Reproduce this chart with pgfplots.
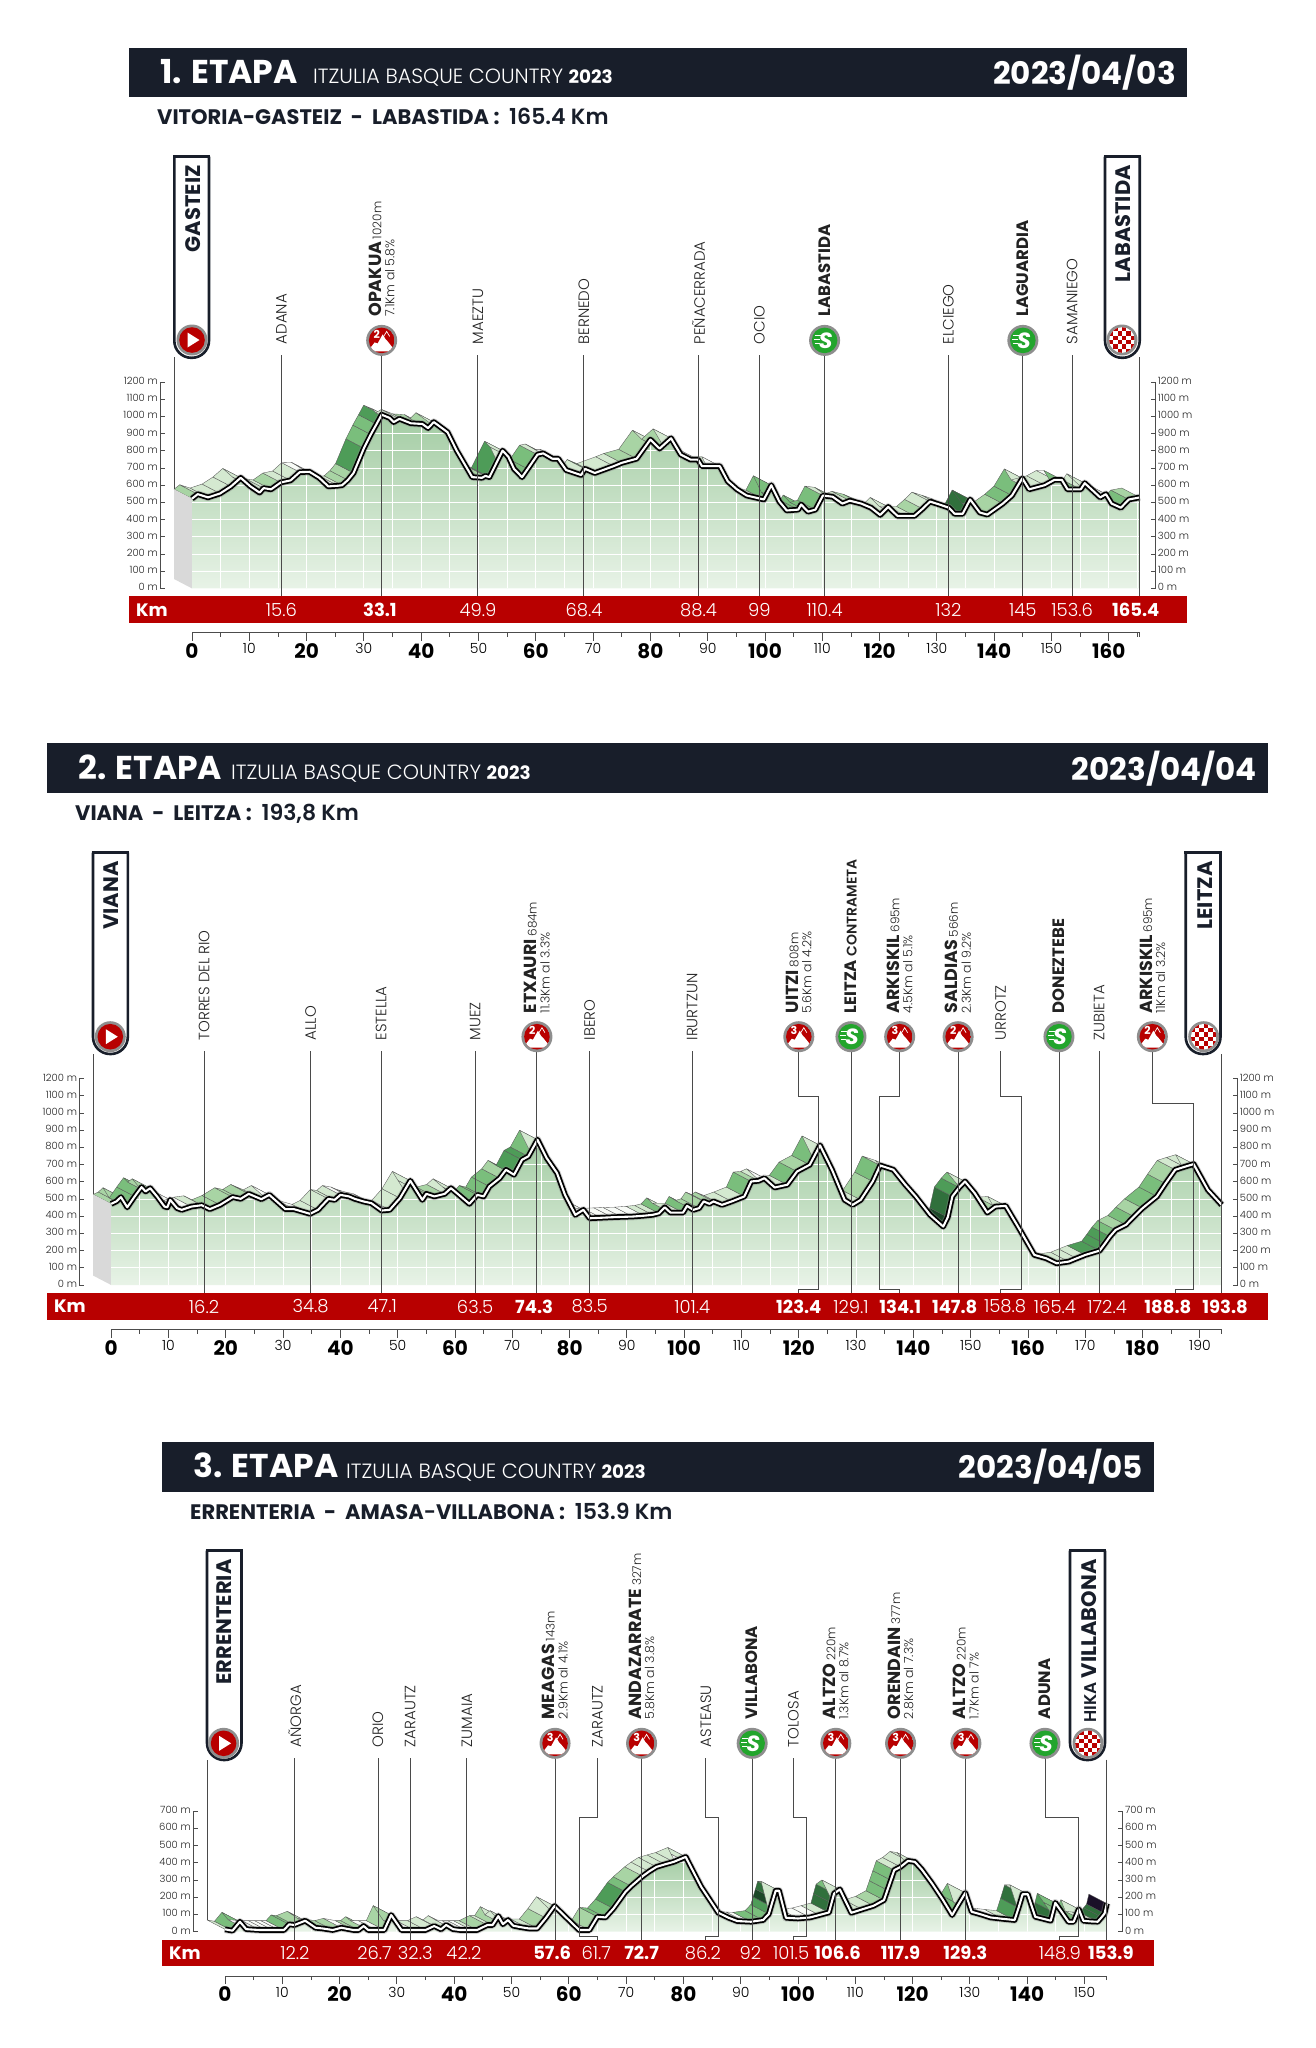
\documentclass[border=0pt]{standalone}
\usepackage{fontspec}
\setmainfont{Poppins}
\newfontfamily\lt{Poppins Light}
\usepackage{pgfplots}
\pgfplotsset{compat=1.18}
\usepgfplotslibrary{patchplots}

\definecolor{navy}{HTML}{181E2A}
\definecolor{barred}{HTML}{B80000}
\definecolor{dark}{HTML}{222222}
\definecolor{vline}{HTML}{4A4A4A}
\definecolor{ring}{HTML}{8E8E8E}
\definecolor{sgreen}{HTML}{22A52C}
\definecolor{areatop}{HTML}{A3CCA3}
\definecolor{areabot}{HTML}{E8F3E7}

\newcommand\fs[1]{\fontsize{#1}{#1}\selectfont}
\newcommand\bd{\normalfont\bfseries}
\newcommand\tM[1]{{\bd\fs{20}#1}}
\newcommand\tm[1]{{\lt\fs{14}#1}}

% ribbon and road from one list km/m/class
\newcommand\buildstage[1]{%
  \gdef\roadcoords{}\gdef\ribcoords{}\gdef\clippath{}\gdef\lastk{}%
  \foreach \k/\e/\c in {#1}{%
    \xdef\roadcoords{\roadcoords (\k,\e)}%
    \xdef\clippath{\clippath --(axis cs:\k,\e)}%
    \ifx\lastk\empty\else
      \pgfmathsetmacro\xa{\lastk-3.14}\pgfmathsetmacro\ya{\laste+54.6}%
      \pgfmathsetmacro\xb{\k-3.14}\pgfmathsetmacro\yb{\e+54.6}%
      \xdef\ribcoords{\ribcoords (\lastk,\laste)[\c] (\k,\e)[\c] (\xb,\yb)[\c] (\xa,\ya)[\c]}%
    \fi
    \xdef\lastk{\k}\xdef\laste{\e}%
  }}
\newcommand\plotcoords[2]{\edef\tmpa{\noexpand\addplot[#1] coordinates {#2}}\tmpa}

% white 5 km / 100 m lattice that shows inside the area
\gdef\gridpath{}
\foreach \k in {5,10,...,195}{\xdef\gridpath{\gridpath (axis cs:\k,0)--(axis cs:\k,1200)}}
\foreach \h in {100,200,...,1200}{\xdef\gridpath{\gridpath (axis cs:0,\h)--(axis cs:200,\h)}}
\newcommand\areagrid{\begin{scope}
  \clip (axis cs:0,0) \clippath --(axis cs:\lastk,0)--cycle;
  \draw[white,line width=0.9pt] \gridpath;
\end{scope}}

\pgfplotsset{
  colormap={rib}{rgb255=(248,251,247) rgb255=(212,233,208) rgb255=(168,212,164) rgb255=(122,190,124)
    rgb255=(78,156,88) rgb255=(48,112,60) rgb255=(28,72,40) rgb255=(26,16,40)},
  stage/.style={
    x=5.73pt, y=0.172pt, clip=false, anchor=south west,
    xmin=0, ymin=0,
    axis x line*=bottom, axis y line=none,
    axis x line shift=44.5pt,
    axis line style={draw=black!70, line width=1pt, -},
    xtick align=outside,
    major tick length=8pt, minor tick length=4pt,
    tick style={black!70, line width=0.9pt},
    ytick=\empty,
    xticklabels={\tM{0},\tm{10},\tM{20},\tm{30},\tM{40},\tm{50},\tM{60},\tm{70},\tM{80},\tm{90},\tM{100},\tm{110},\tM{120},\tm{130},\tM{140},\tm{150},\tM{160},\tm{170},\tM{180},\tm{190}},
    xticklabel style={anchor=north, inner sep=0pt, yshift=-2.5pt},
  },
  stageside/.style={
    x=5.73pt, y=0.172pt, clip=false, anchor=south west,
    xmin=0, ymin=0, xtick=\empty,
    axis x line=none,
    axis line style={draw=black!70, line width=1pt, -},
    ytick align=inside, major tick length=4.5pt,
    tick style={black!70, line width=0.9pt},
    ytick={0,100,...,1200},
    yticklabels={0 m,100 m,200 m,300 m,400 m,500 m,600 m,700 m,800 m,900 m,1000 m,1100 m,1200 m},
    yticklabel style={font=\lt\fs{10}, text=dark, inner sep=2pt, yshift=1.2pt},
  },
  stageleft/.style={stageside, axis y line*=left, axis y line shift=32pt},
  stageright/.style={stageside, axis y line*=right, axis y line shift=16pt},
  ribbonplot/.style={patch, patch type=rectangle, shader=faceted, colormap name=rib,
    faceted color=black!65, line width=0.35pt, point meta=explicit, point meta min=0, point meta max=7},
  areaplot/.style={draw=none, top color=areatop, bottom color=areabot},
  roadshadow/.style={black!45, opacity=0.4, line width=7.5pt, line join=round, mark=none},
  roadout/.style={black, line width=5.6pt, line join=round, mark=none},
  roadin/.style={white, line width=2.1pt, line join=round, mark=none},
}

\tikzset{
  pics/climbicon/.style={code={
    \fill[ring] (0pt,0pt) circle[radius=15.5pt];
    \begin{scope}
      \clip (0pt,0pt) circle[radius=12.8pt];
      \fill[barred] (0pt,0pt) circle[radius=13pt];
      \fill[white] (-14pt,-11pt)--(-7pt,-2pt)--(-4pt,-3pt)--(1pt,6pt)--(4pt,1pt)--(6pt,-1pt)--(14pt,-11pt)--cycle;
      \draw[white,line width=0.7pt] (2pt,4pt)--(5pt,9pt)--(8pt,4pt);
    \end{scope}
    \node[white,inner sep=0pt] at (-4.8pt,6pt) {\bd\fs{11}#1};
  }},
  pics/sprinticon/.style={code={
    \fill[ring] (0pt,0pt) circle[radius=15.5pt];
    \fill[sgreen] (0pt,0pt) circle[radius=12.8pt];
    \draw[white,line width=0.8pt] (-10pt,5pt)--(-4pt,5pt) (-11pt,1pt)--(-5pt,1pt) (-10pt,-3pt)--(-5pt,-3pt);
    \node[white,inner sep=0pt] at (1pt,0pt) {\bd\itshape\fs{22}S};
  }},
  pics/starticon/.style={code={
    \fill[ring] (0pt,0pt) circle[radius=15.5pt];
    \fill[barred] (0pt,0pt) circle[radius=12.8pt];
    \fill[white] (-4.5pt,7.5pt)--(7.5pt,0pt)--(-4.5pt,-7.5pt)--cycle;
  }},
  pics/finishicon/.style={code={
    \fill[ring] (0pt,0pt) circle[radius=15.5pt];
    \begin{scope}
      \clip (0pt,0pt) circle[radius=12.8pt];
      \fill[white] (-13pt,-13pt) rectangle (13pt,13pt);
      \foreach \i in {-3,...,2}{\foreach \j in {-3,...,2}{
        \pgfmathparse{int(mod(\i+\j+6,2))}
        \ifnum\pgfmathresult=0
          \fill[barred] (\i*4.4pt,\j*4.4pt) rectangle ++(4.4pt,4.4pt);
        \fi}}
    \end{scope}
  }},
}

% page furniture in picture pixels
\newcommand\header[8]{% xL xR yT yB num date, subtitle bold part, subtitle light part
  \fill[navy] (#1,#3) rectangle (#2,#4);
  \node[anchor=base west,white,inner sep=0pt] at ({#1+31},{#4-14.3}) {\bd\fs{33}#5. ETAPA};
  \node[anchor=base west,white,inner sep=0pt] at ({#1+184},{#4-13.5}) {{\lt\fs{20.6}ITZULIA BASQUE COUNTRY}\ \ {\bd\fs{18.4}2023}};
  \node[anchor=base east,white,inner sep=0pt] at ({#2-11},{#4-13.3}) {\bd\fs{31}#6};
  \node[anchor=base west,navy,inner sep=0pt] at ({#1+28},{#4+27.4}) {\bd\fs{21}#7 {\lt\fs{22} #8}};
}
\newcommand\kmbar[4]{% xL xR y0 x of Km
  \fill[barred] (#1,{#3+8}) rectangle (#2,{#3+34.5});
  \node[white,inner sep=0pt] at (#4,{#3+21.5}) {\bd\fs{18}Km};
}
\newcommand\flagbox[6]{% x1 x2 top bottom text-x text
  \fill[white] (#1,#3) rectangle (#2,{#4-15});
  \draw[navy,line width=2.6pt,rounded corners=17pt] (#1,#3)--(#1,#4)--(#2,#4)--(#2,#3);
  \draw[navy,line width=2.6pt] ({#1-1.3},#3)--({#2+1.3},#3);
  \node[rotate=90,anchor=east,navy,inner sep=0pt] at (#5,{#3+8.5}) {\bd\fs{21}#6};
}

% annotations inside an axis
\newcommand\townline[1]{\draw[vline,line width=0.9pt] ([yshift=\Ltop pt]axis cs:#1,0)--([yshift=-8pt]axis cs:#1,0);}
\newcommand\elbow[4]{\draw[vline,line width=0.9pt] ([yshift=\Ltop pt]axis cs:#1,0)--([yshift=#4 pt]axis cs:#1,0)--([yshift=#4 pt]axis cs:#2,0)--([yshift=-4.3pt]axis cs:#2,0)--([yshift=-4.3pt]axis cs:#3,0)--([yshift=-8pt]axis cs:#3,0);}
\newcommand\town[2]{\node[rotate=90,anchor=west,text=dark,inner sep=0pt] at ([yshift=\Lplain pt]axis cs:#1,0) {\lt\fs{15}#2};}
\newcommand\sprint[2]{\path ([yshift=\Lcirc pt]axis cs:#1,0) pic {sprinticon};
  \node[rotate=90,anchor=west,text=dark,inner sep=0pt] at ([yshift=\Lbold pt]axis cs:#1,0) {\bd\fs{16.5}#2};}
\newcommand\climb[5]{\path ([yshift=\Lcirc pt]axis cs:#1,0) pic {climbicon={#2}};
  \node[rotate=90,anchor=west,text=dark,inner sep=0pt,align=left] at ([yshift=\Lbold pt]axis cs:#1,0)
  {{\bd\fs{17.5}#3}\ {\lt\fs{12}#4}\\[1pt]{\lt\fs{12.5}#5}};}
\newcommand\kmL[2]{\node[white,inner sep=0pt] at ([yshift=-21.5pt]axis cs:#1,0) {\lt\fs{18}#2};}
\newcommand\kmB[2]{\node[white,inner sep=0pt] at ([yshift=-21.5pt]axis cs:#1,0) {\bd\fs{18}#2};}

\begin{document}
\begin{tikzpicture}
\useasboundingbox (0pt,0pt) rectangle (1316pt,-2048pt);

%--------------------------------- stage 1
\begin{scope}[x=1pt,y=-1pt]
\header{129}{1187}{47.5}{97.3}{1}{2023/04/03}{VITORIA-GASTEIZ\ \ -\ \ LABASTIDA :}{165.4 Km}
\kmbar{129}{1187}{588.4}{152}
\flagbox{174.3}{209}{156.5}{357.8}{192.7}{GASTEIZ}
\flagbox{1105}{1139.7}{156.5}{357.8}{1123}{LABASTIDA}
\path (192,340) pic {starticon};
\path (1122,340) pic {finishicon};
\end{scope}
\def\Ltop{233}\def\Lplain{244}\def\Lbold{271.5}\def\Lcirc{248}
\buildstage{0/522/1,1/548/2,2.8/529/1,4.9/552/1,6.8/593/1,8.5/643/1,10.2/593/1,11.8/557/0,12.5/583/1,13.8/576/1,15.5/616/2,17.2/628/1,18.8/676/1,20.5/678/0,22.2/643/0,23.8/593/0,25.5/597/0,26.2/600/1,27.2/630/2,28.2/671/2,30/815/4,31.2/895/3,32.2/955/3,33.1/1010/4,34.5/991/1,35.2/967/1,36.2/986/1,38.2/960/1,40.2/956/2,41.2/932/0,42.2/967/2,44.6/908/1,46.2/801/1,48.9/647/1,50.6/643/1,51.2/654/2,51.9/647/2,54.2/801/4,55.2/766/1,56.2/695/1,57.6/647/1,58.6/695/3,60.3/778/3,61.3/785/1,62.9/754/1,63.9/754/0,65.3/688/0,67.9/659/0,68.6/695/1,70.3/671/3,73.6/711/1,75/730/1,77.6/754/2,80/865/2,81.6/813/1,83.6/873/2,85.3/778/1,87/749/1,88.3/749/1,89/711/0,92.1/711/1,93.5/623/0,95.1/576/0,96.8/540/1,99.8/517/1,101.1/600/3,102.5/505/3,103.8/453/3,105.8/458/3,106.3/488/3,107.5/446/3,108.8/458/3,110.1/540/3,111.8/533/1,113.5/493/2,114.8/510/1,116.8/493/2,118.5/469/3,120.1/427/3,121.5/474/1,123.1/422/1,124.5/422/0,126.1/422/1,127.5/463/2,128.8/505/1,130.5/487/1,132.1/469/1,133.1/434/1,134.5/434/1,135.8/517/5,137.5/441/5,138.8/429/1,141.5/493/2,143.1/540/3,144.9/640/3,146.1/576/1,148.8/600/1,150.5/631/1,151.8/631/0,152.8/576/3,155.1/576/3,155.8/612/1,158.5/529/1,159.5/548/1,160.5/493/0,162.1/469/3,163.5/517/3,165.4/529/2}
\begin{axis}[stage, at={(192pt,-588.4pt)}, xmax=165.4, ymax=1200,
  xtick={0,10,...,160}, minor xtick={5,15,...,165,165.4}]
\plotcoords{ribbonplot}{\ribcoords};
\addplot[fill=black!15,draw=none] coordinates {(-3.14,576.6)(0,522)(0,0)(-3.14,54.6)} --cycle;
\plotcoords{areaplot}{\roadcoords}\closedcycle;
\areagrid
\plotcoords{roadshadow}{\roadcoords};
\plotcoords{roadout}{\roadcoords};
\plotcoords{roadin}{\roadcoords};
\draw[vline,line width=0.9pt] (axis cs:-3.14,576.6)--([yshift=231pt]axis cs:-3.14,0);
\draw[vline,line width=0.9pt] ([yshift=231pt]axis cs:165.4,0)--([yshift=-8pt]axis cs:165.4,0);
\townline{15.6}\townline{33.1}\townline{49.9}\townline{68.4}\townline{88.4}\townline{99}\townline{110.4}\townline{132}\townline{145}\townline{153.6}
\town{15.6}{ADANA}\town{49.9}{MAEZTU}\town{68.4}{BERNEDO}\town{88.4}{PEÑACERRADA}\town{99}{OCIO}\town{132}{ELCIEGO}\town{153.6}{SAMANIEGO}
\climb{33.1}{2}{OPAKUA}{1020m}{7.1Km al 5.8\%}
\sprint{110.4}{LABASTIDA}\sprint{145}{LAGUARDIA}
\kmL{15.6}{15.6}\kmB{32.8}{33.1}\kmL{49.9}{49.9}\kmL{68.4}{68.4}\kmL{88.4}{88.4}\kmL{99}{99}\kmL{110.4}{110.4}\kmL{132}{132}\kmL{145}{145}\kmL{153.6}{153.6}\kmB{164.7}{165.4}
\end{axis}
\begin{axis}[stageleft, at={(192pt,-588.4pt)}, xmax=165.4, ymax=1200]
\addplot[draw=none] coordinates {(0,0)};
\end{axis}
\begin{axis}[stageright, at={(192pt,-588.4pt)}, xmax=165.4, ymax=1200]
\addplot[draw=none] coordinates {(0,0)};
\end{axis}

%--------------------------------- stage 2
\begin{scope}[x=1pt,y=-1pt]
\header{47}{1268}{743.3}{793.3}{2}{2023/04/04}{VIANA\ \ -\ \ LEITZA :}{193,8 Km}
\kmbar{47}{1268}{1285}{70}
\flagbox{93}{127.8}{852.7}{1054}{111.4}{VIANA}
\flagbox{1185.7}{1220.5}{852.7}{1054}{1205}{LEITZA}
\path (110.3,1036.7) pic {starticon};
\path (1203.7,1036.7) pic {finishicon};
\end{scope}
\def\Ltop{234}\def\Lplain{244.5}\def\Lbold{271.5}\def\Lcirc{248.3}
\buildstage{0/472/1,0.9/486/2,1.7/511/2,2.8/452/2,4.1/515/3,5.3/569/3,6/544/3,6.8/563/2,8/515/2,9.3/456/1,9.8/452/0,10.3/495/0,11.5/447/0,12.3/437/0,14/456/0,15.8/464/1,17.2/441/1,19/466/2,21.2/511/2,22.6/501/2,24/530/2,26.2/499/2,27.6/524/1,30.4/441/0,31.9/441/0,34.7/414/0,36.1/437/1,37.9/501/1,39/495/1,40/524/1,41.5/515/0,42.5/501/0,44/486/0,45.4/476/0,47.2/433/0,48.6/437/0,50.4/505/1,52.2/606/1,53.2/553/1,54.3/495/1,55/530/2,56.4/515/2,58.2/530/2,59.3/563/1,61/515/1,62.5/472/1,63.9/524/3,65/515/3,66/573/3,67.8/621/3,68.9/670/2,70.3/641/2,71.7/728/4,72.8/748/4,74.4/845/3,76/738/1,77.8/651/1,79.2/524/1,81/408/1,82.4/437/1,83.5/388/0,85.5/391/0,87.4/394/0,89/396/0,91/398/0,93/403/0,94.5/408/1,95.6/417/1,96.6/452/3,97.6/421/1,99.8/421/1,100.5/460/3,101.6/437/2,102.6/447/2,103.4/486/2,104.4/472/1,105.1/486/2,106.6/466/1,108.3/486/1,110.5/515/1,111.7/602/3,113/606/2,114/621/1,115.8/567/0,118/583/1,119.7/660/3,121.9/699/2,123.7/812/3,125.8/670/1,128/495/1,129.4/466/1,130.8/495/1,132.9/602/2,134.2/695/3,136.5/670/1,138.6/583/1,140.4/515/1,142.9/408/1,145.2/340/1,146/394/6,146.8/515/5,148/567/4,149/602/3,150.7/534/1,152.9/421/1,154.3/456/2,156.1/460/1,158.6/320/1,161.1/175/1,163.2/155/1,165/126/1,167.1/136/1,168.5/155/1,170/175/1,172.5/200/4,173.4/240/4,174.3/282/4,175.3/320/3,177.1/350/2,178.5/398/3,180/447/2,182.5/515/3,184/590/3,185.7/670/2,187.3/687/1,188.9/703/1,191.4/553/1,193.8/466/1}
\begin{axis}[stage, at={(111.2pt,-1285pt)}, xmax=193.8, ymax=1200,
  xtick={0,10,...,190}, minor xtick={5,15,...,185,193.8}]
\plotcoords{ribbonplot}{\ribcoords};
\addplot[fill=black!15,draw=none] coordinates {(-3.14,526.6)(0,472)(0,0)(-3.14,54.6)} --cycle;
\plotcoords{areaplot}{\roadcoords}\closedcycle;
\areagrid
\plotcoords{roadshadow}{\roadcoords};
\plotcoords{roadout}{\roadcoords};
\plotcoords{roadin}{\roadcoords};
\draw[vline,line width=0.9pt] (axis cs:-3.14,526.6)--([yshift=231pt]axis cs:-3.14,0);
\draw[vline,line width=0.9pt] ([yshift=231pt]axis cs:193.8,0)--([yshift=-8pt]axis cs:193.8,0);
\townline{16.2}\townline{34.8}\townline{47.1}\townline{63.5}\townline{74.3}\townline{83.5}\townline{101.4}\townline{129.1}\townline{147.8}\townline{165.4}\townline{172.4}
\elbow{120}{123.5}{120}{188.3}
\elbow{137.6}{134.1}{137.6}{188.3}
\elbow{155.2}{158.8}{155.2}{188.3}
\elbow{181.7}{188.9}{185.7}{182}
\town{16.2}{TORRES DEL RIO}\town{34.8}{ALLO}\town{47.1}{ESTELLA}\town{63.5}{MUEZ}\town{83.5}{IBERO}\town{101.4}{IRURTZUN}\town{155.2}{URROTZ}\town{172.4}{ZUBIETA}
\climb{74.3}{2}{ETXAURI}{684m}{11.3Km al 3.3\%}
\climb{120}{3}{UITZI}{808m}{5.6Km al 4.2\%}
\climb{137.6}{3}{ARKISKIL}{695m}{4.5Km al 5.1\%}
\climb{147.8}{2}{SALDIAS}{566m}{2.3Km al 9.2\%}
\climb{181.7}{2}{ARKISKIL}{695m}{11Km al 3.2\%}
\sprint{129.1}{LEITZA {\lt\fs{14}CONTRAMETA}}\sprint{165.4}{DONEZTEBE}
\kmL{16.2}{16.2}\kmL{34.8}{34.8}\kmL{47.3}{47.1}\kmL{63.5}{63.5}\kmB{73.8}{74.3}\kmL{83.5}{83.5}\kmL{101.4}{101.4}\kmB{120}{123.4}\kmL{129.1}{129.1}\kmB{137.7}{134.1}\kmB{147.2}{147.8}\kmL{156}{158.8}\kmL{164.7}{165.4}\kmL{173.8}{172.4}\kmB{184.4}{188.8}\kmB{194.4}{193.8}
\end{axis}
\begin{axis}[stageleft, at={(111.2pt,-1285pt)}, xmax=193.8, ymax=1200]
\addplot[draw=none] coordinates {(0,0)};
\end{axis}
\begin{axis}[stageright, at={(111.2pt,-1285pt)}, xmax=193.8, ymax=1200]
\addplot[draw=none] coordinates {(0,0)};
\end{axis}

%--------------------------------- stage 3
\begin{scope}[x=1pt,y=-1pt]
\header{162}{1154}{1441.7}{1491.7}{3}{2023/04/05}{ERRENTERIA\ \ -\ \ AMASA{\lt -}VILLABONA :}{153.9 Km}
\kmbar{162}{1154}{1931.7}{185}
\flagbox{207}{241.5}{1550.7}{1760}{224.6}{ERRENTERIA}
\flagbox{1070}{1105}{1550.7}{1760}{1089}{{\lt\fs{17}HIKA} VILLABONA}
\path (223.6,1743.3) pic {starticon};
\path (1088,1743.3) pic {finishicon};
\end{scope}
\def\Ltop{173.4}\def\Lplain{184.4}\def\Lbold{212.4}\def\Lcirc{188.4}
\buildstage{0/14/1,1.3/6/1,2.6/58/3,3.7/15/3,5/12/0,6.1/10/0,7.2/10/0,8.3/10/0,9.4/10/0,10.3/10/0,11.2/43/3,12.1/39/3,14/64/2,15.8/23/1,17/19/0,18.8/10/2,20.3/23/2,22.4/10/0,23.3/10/2,24.2/33/2,25/10/2,26.4/10/0,27.8/10/0,29/97/2,30.8/10/2,32/10/0,33/10/0,35/10/1,36.5/33/1,37.7/14/1,38.6/39/1,39.8/15/0,41/10/0,42/10/0,43/10/0,44/10/1,45.8/39/2,46.7/39/1,47.7/91/2,48.5/44/1,49.4/68/1,50.3/35/1,51.5/27/0,53/19/0,54.5/19/1,56/80/2,57.5/149/1,60/68/1,61.8/10/1,63.6/10/1,65/87/2,66.4/83/3,67.8/135/3,69.9/232/4,70.9/265/3,72.9/323/2,74/350/1,75.3/377/1,76.8/392/1,78.3/406/1,80.4/435/1,81/396/1,83.1/261/0,86.1/110/0,87.9/81/0,89.4/62/0,90.6/60/0,91.8/58/0,93.9/68/3,94.9/103/3,95.3/148/4,95.7/193/6,96.1/238/5,96.7/238/3,97.9/81/1,100/77/0,102.1/83/0,103.7/97/0,105.4/112/1,105.85/167/5,106.3/222/5,107.3/246/3,109.3/110/1,111.2/130/1,113.2/151/1,115/184/2,115.6/242/3,116.2/300/3,116.8/358/3,117.9/377/1,119.2/412/1,120.4/406/1,121.6/362/1,123.4/280/1,125.2/190/1,126.9/97/1,128/160/3,129.2/226/3,130.3/116/1,132/100/0,133.6/83/0,135.7/75/0,137.8/68/1,138.5/140/4,139.2/218/5,140.1/218/1,141.4/87/1,142.7/76/1,144.1/64/1,144.5/115/5,144.9/168/4,146/116/3,147.2/58/3,148.1/58/3,149/131/3,149.8/64/1,151/60/1,152.3/58/1,153/85/5,153.5/106/5,153.9/164/7}
\begin{axis}[stage, at={(225pt,-1931.7pt)}, xmax=153.9, ymax=700,
  xtick={0,10,...,150}, minor xtick={5,15,...,145,153.9}]
\plotcoords{ribbonplot}{\ribcoords};
\plotcoords{areaplot}{\roadcoords}\closedcycle;
\areagrid
\plotcoords{roadshadow}{\roadcoords};
\plotcoords{roadout}{\roadcoords};
\plotcoords{roadin}{\roadcoords};
\draw[vline,line width=0.9pt] (axis cs:-3.14,68.6)--([yshift=172pt]axis cs:-3.14,0);
\draw[vline,line width=0.9pt] ([yshift=172pt]axis cs:153.9,0)--([yshift=-8pt]axis cs:153.9,0);
\townline{12.2}\townline{26.7}\townline{32.3}\townline{42.2}\townline{57.6}\townline{72.7}\townline{92}\townline{106.6}\townline{117.9}\townline{129.3}
\elbow{65}{61.8}{65}{114.4}
\elbow{83.9}{86.2}{83.9}{114.4}
\elbow{99.2}{101.5}{99.2}{114.4}
\elbow{143.1}{148.9}{145.7}{114.4}
\town{12.2}{AÑORGA}\town{26.7}{ORIO}\town{32.3}{ZARAUTZ}\town{42.2}{ZUMAIA}\town{65}{ZARAUTZ}\town{83.9}{ASTEASU}\town{99.2}{TOLOSA}
\climb{57.6}{3}{MEAGAS}{143m}{2.9Km al 4.1\%}
\climb{72.7}{3}{ANDAZARRATE}{327m}{5.8Km al 3.8\%}
\climb{106.6}{3}{ALTZO}{220m}{1.3Km al 8.7\%}
\climb{117.9}{3}{ORENDAIN}{377m}{2.8Km al 7.3\%}
\climb{129.3}{3}{ALTZO}{220m}{1.7Km al 7\%}
\sprint{92}{VILLABONA}\sprint{143.1}{ADUNA}
\kmL{12.2}{12.2}\kmL{26.1}{26.7}\kmL{33.2}{32.3}\kmL{41.7}{42.2}\kmB{57.1}{57.6}\kmL{64.8}{61.7}\kmB{72.7}{72.7}\kmL{83.4}{86.2}\kmL{91.7}{92}\kmL{98.8}{101.5}\kmB{106.9}{106.6}\kmB{117.9}{117.9}\kmB{129.2}{129.3}\kmL{145.7}{148.9}\kmB{154.6}{153.9}
\end{axis}
\begin{axis}[stageleft, at={(225pt,-1931.7pt)}, xmax=153.9, ymax=700]
\addplot[draw=none] coordinates {(0,0)};
\end{axis}
\begin{axis}[stageright, at={(225pt,-1931.7pt)}, xmax=153.9, ymax=700]
\addplot[draw=none] coordinates {(0,0)};
\end{axis}
\end{tikzpicture}
\end{document}
